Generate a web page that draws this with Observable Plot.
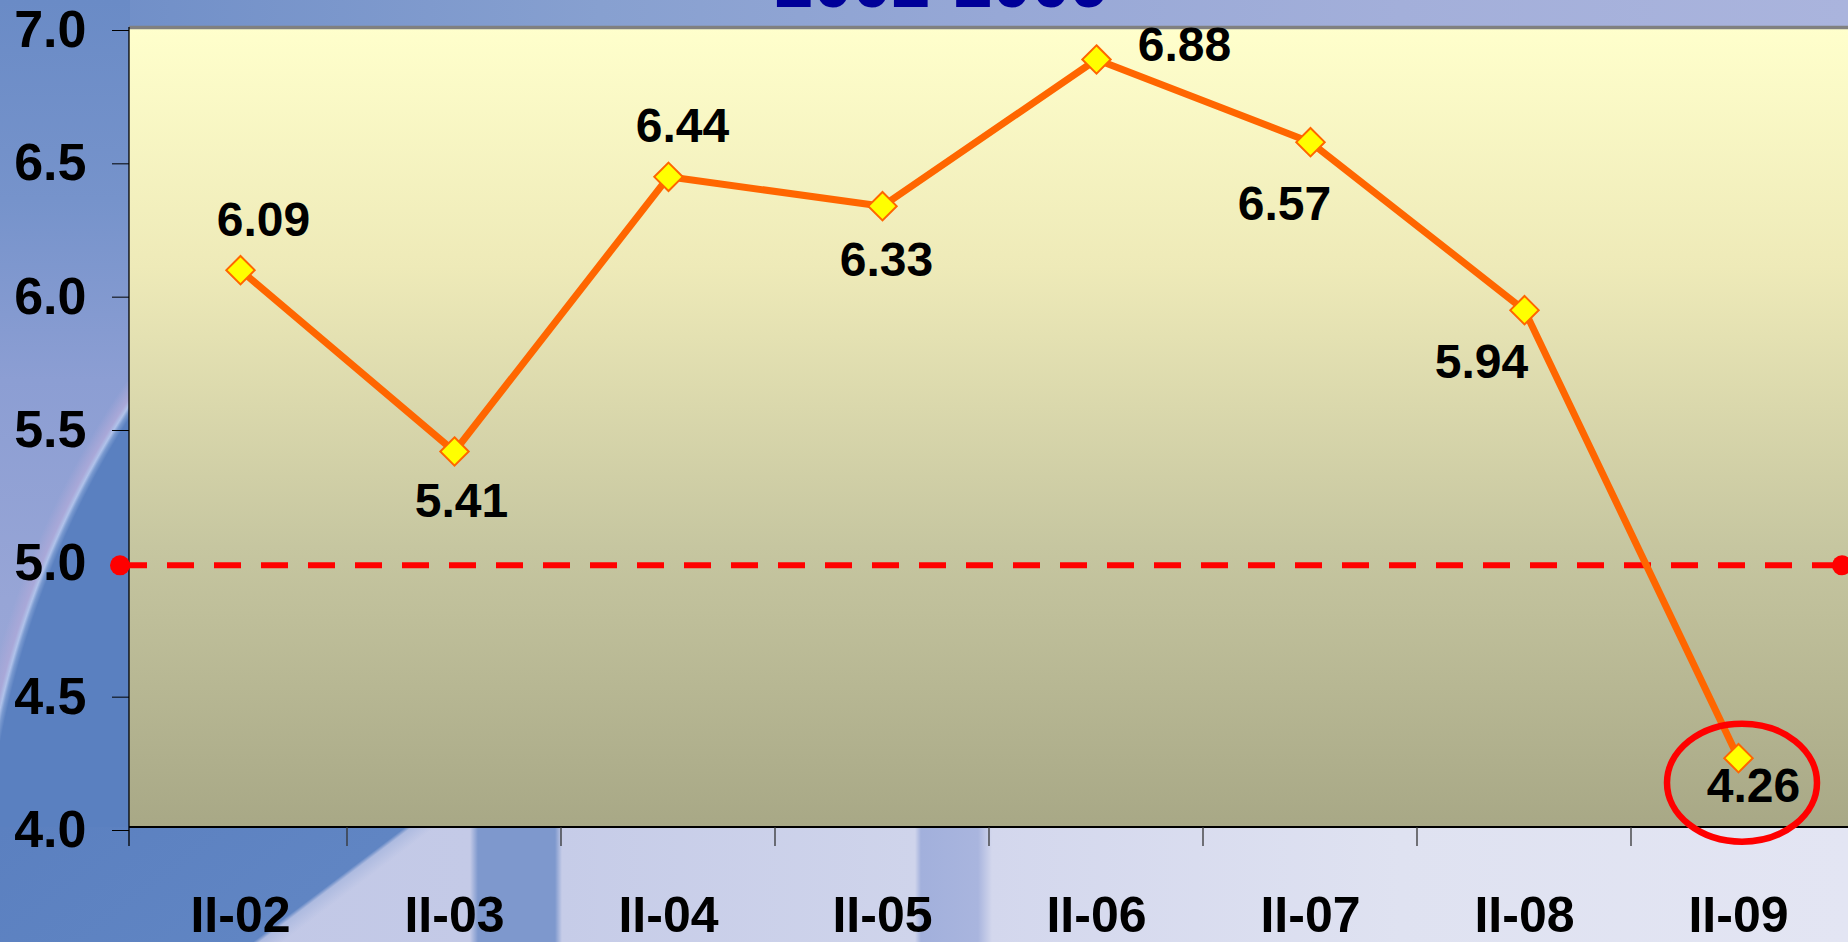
<!DOCTYPE html>
<html>
<head>
<meta charset="utf-8">
<script src="https://cdn.jsdelivr.net/npm/d3@7"></script>
<script src="https://cdn.jsdelivr.net/npm/@observablehq/plot@0.6"></script>
<style>
html, body { margin: 0; padding: 0; overflow: hidden; background: #6b8bc6; }
#stage {
  position: relative; width: 1848px; height: 942px; overflow: hidden;
  font-family: "Liberation Sans", Arial, sans-serif;
  background: linear-gradient(90deg, #6b8bc6 0px, #87a0d0 600px, #97a8d6 1000px, #a3afda 1400px, #aab4dd 1848px);
}
#leftcol {
  position: absolute; left: 0; top: 0; width: 130px; height: 830px;
  background:
    radial-gradient(circle at 906px 915px, #5a80c0 922px, #7a9ad0 926px, #b0c2ea 929px, #a9a8d8 933px, rgba(151,165,214,0) 945px),
    linear-gradient(180deg, #6a8bc6 0px, #7693cb 200px, #8c9ed3 380px, #97a5d6 600px, #9ca8d8 830px);
}
#bottomband {
  position: absolute; left: 0; top: 827px; width: 1848px; height: 115px;
  background:
    linear-gradient(143deg, #5b80c0 0px, #6085c3 244px, #aebbe0 248px, rgba(190,198,230,0) 262px),
    linear-gradient(90deg, #bfc6e6 0px, #c4cae7 470px, #7e98cd 478px, #7e98cd 555px, #c6cce8 562px, #cfd4eb 915px, #a2b0dc 921px, #a9b5de 978px, #d3d7ed 992px, #dfe2f1 1400px, #e3e5f3 1848px);
}
#title {
  position: absolute; left: 18px; top: -52px; width: 1848px; text-align: center;
  font-size: 70px; line-height: 1; font-weight: bold; color: #000099;
}
#chart { position: absolute; left: 0; top: 0; }
#chart svg { overflow: visible; }
</style>
</head>
<body>
<div id="stage">
  <div id="leftcol"></div>
  <div id="bottomband"></div>
  <div id="title">2002-2009</div>
  <div id="chart"></div>
</div>
<script>
// ---- data ----
const quarters = ["II-02", "II-03", "II-04", "II-05", "II-06", "II-07", "II-08", "II-09"];
const growth = [6.09, 5.41, 6.44, 6.33, 6.88, 6.57, 5.94, 4.26];
const yTicks = [4.0, 4.5, 5.0, 5.5, 6.0, 6.5, 7.0];
const yDomain = [4.0, 7.0];
const threshold = 5.0;
const highlighted = "II-09";

// label placement offsets in pixels (dx, dy) for each point's value label
const labelOffsets = [[23, -50], [7, 50], [14, -50], [4, 54], [88, -14], [-26, 62], [-43, 52], [15, 28]];

const data = quarters.map((q, i) => ({q, v: growth[i]}));

const W = 1848, H = 942;
const M = {left: 129, right: 0, top: 27, bottom: 115};
const ns = "http://www.w3.org/2000/svg";
function el(tag, attrs) {
  const e = document.createElementNS(ns, tag);
  for (const k in attrs) e.setAttribute(k, attrs[k]);
  return e;
}

// plot-area background (gradient)
const plotBackground = (index, scales, values, dims) => {
  const g = el("g", {});
  const defs = el("defs", {});
  const lg = el("linearGradient", {id: "plotbg", x1: 0, y1: 0, x2: 0, y2: 1});
  [["0%", "#ffffcc"], ["30%", "#eeeab8"], ["65%", "#c6c6a0"], ["100%", "#a8a886"]].forEach(([o, c]) => {
    lg.appendChild(el("stop", {offset: o, "stop-color": c}));
  });
  defs.appendChild(lg);
  g.appendChild(defs);
  const y0 = scales.y(yDomain[1]), y1 = scales.y(yDomain[0]);
  g.appendChild(el("rect", {x: dims.marginLeft, y: y0, width: dims.width - dims.marginLeft - dims.marginRight, height: y1 - y0, fill: "url(#plotbg)"}));
  // top gray border
  g.appendChild(el("line", {x1: dims.marginLeft, x2: dims.width - dims.marginRight, y1: y0 + 0.5, y2: y0 + 0.5, stroke: "#808080", "stroke-width": 3.5}));
  return g;
};

// axis lines and category boundary ticks
const axisLines = (index, scales, values, dims) => {
  const g = el("g", {stroke: "#000", "stroke-width": 1.3});
  const step = scales.x(quarters[1]) - scales.x(quarters[0]);
  const yb = scales.y(yDomain[0]);
  const yt = scales.y(yDomain[1]);
  const tickLen = 19;
  g.appendChild(el("line", {x1: dims.marginLeft, x2: dims.marginLeft, y1: yt, y2: yb + tickLen}));
  g.appendChild(el("line", {x1: dims.marginLeft, x2: dims.width, y1: yb, y2: yb, "stroke-width": 2}));
  quarters.forEach((q, i) => {
    const xb = scales.x(q) + step / 2;
    if (i < quarters.length - 1)
      g.appendChild(el("line", {x1: xb, x2: xb, y1: yb, y2: yb + tickLen, stroke: "#333"}));
  });
  return g;
};

// red dashed threshold line with round end markers
const thresholdLine = (index, scales, values, dims) => {
  const g = el("g", {});
  const y = scales.y(threshold) + 5;
  const xa = dims.marginLeft - 9, xb = dims.width - 6;
  g.appendChild(el("line", {x1: xa, x2: xb, y1: y, y2: y, stroke: "#ff0000", "stroke-width": 6, "stroke-dasharray": "27,20"}));
  g.appendChild(el("circle", {cx: xa, cy: y, r: 10, fill: "#ff0000"}));
  g.appendChild(el("circle", {cx: xb, cy: y, r: 10, fill: "#ff0000"}));
  return g;
};

// red ellipse highlighting the last value
const highlightRing = (index, scales, values, dims) => {
  const i = quarters.indexOf(highlighted);
  const cx = scales.x(highlighted) + 4;
  const cy = scales.y(growth[i]) + 25;
  return el("ellipse", {cx, cy, rx: 75, ry: 59, fill: "none", stroke: "#ff0000", "stroke-width": 6.5});
};

const labelMarks = data.map((d, i) => Plot.text([d], {
  x: "q", y: "v", text: (d) => d3.format(".2f")(d.v),
  dx: labelOffsets[i][0], dy: labelOffsets[i][1],
  fontSize: 48, fontWeight: "bold", fill: "#000"
}));

const chart = Plot.plot({
  width: W, height: H,
  marginLeft: M.left, marginRight: M.right, marginTop: M.top, marginBottom: M.bottom,
  style: {background: "transparent", fontFamily: "'Liberation Sans', Arial, sans-serif", color: "#000", overflow: "visible"},
  x: {type: "point", domain: quarters, padding: 0.5},
  y: {domain: yDomain},
  marks: [
    plotBackground,
    axisLines,
    Plot.axisY({ticks: yTicks, tickFormat: d3.format(".1f"), tickSize: 17, tickPadding: 26, fontSize: 52, fontWeight: "bold", stroke: "#000", fill: "#000", label: null, dy: 3}),
    Plot.axisX({tickSize: 0, tickPadding: 69, fontSize: 50, fontWeight: "bold", fill: "#000", label: null}),
    thresholdLine,
    Plot.line(data, {x: "q", y: "v", stroke: "#ff6600", strokeWidth: 7}),
    highlightRing,
    Plot.dot(data, {x: "q", y: "v", symbol: "diamond2", r: 12.8, fill: "#ffff00", stroke: "#ff6600", strokeWidth: 2}),
    ...labelMarks
  ]
});
document.getElementById("chart").appendChild(chart);
</script>
</body>
</html>
